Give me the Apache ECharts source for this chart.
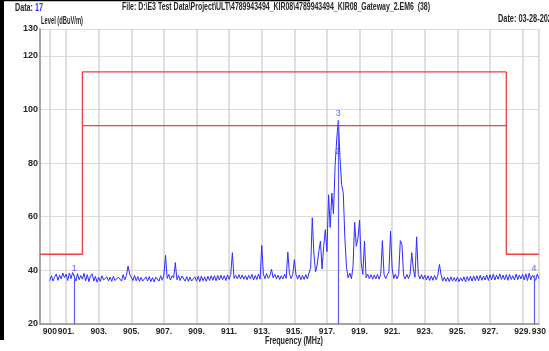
<!DOCTYPE html>
<html>
<head>
<meta charset="utf-8">
<script src="https://cdn.jsdelivr.net/npm/echarts@6/dist/echarts.min.js"></script>
<style>
html,body{margin:0;padding:0;background:#fff;}
#chart{width:549px;height:351px;}
</style>
</head>
<body>
<div id="chart"></div>
<script>
// ---- data ----
const freqStart = 900.0;   // MHz, first sample
const freqStep = 0.1;      // MHz between samples
// measured level (dBuV/m), one row per MHz (900.0 ... 930.0)
const levels = [
 36.2, 38.0, 36.0, 37.6, 38.6, 36.3, 38.2, 36.8, 39.0, 37.3,
 38.6, 36.2, 39.0, 36.9, 39.2, 37.7, 36.0, 38.8, 36.5, 38.1,
 36.7, 38.9, 36.1, 38.4, 35.8, 37.9, 38.7, 36.0, 37.8, 35.6,
 37.4, 35.9, 38.0, 36.4, 35.7, 37.6, 36.1, 37.5, 35.9, 37.8,
 36.2, 35.8, 37.5, 38.0, 36.0, 38.4, 36.5, 38.1, 41.6, 38.6,
 39.0, 36.2, 38.1, 36.1, 37.7, 35.9, 37.4, 36.0, 35.7, 37.6,
 36.0, 37.7, 35.8, 37.3, 35.7, 37.5, 37.9, 36.0, 38.0, 36.3,
 38.2, 45.6, 37.0, 38.5, 36.4, 38.0, 37.2, 42.9, 36.5, 38.1,
 36.2, 37.9, 38.2, 36.0, 37.7, 35.9, 37.5, 36.0, 35.6, 37.6,
 36.0, 37.8, 35.8, 37.9, 36.1, 37.6, 35.9, 37.8, 36.2, 38.0,
 36.3, 38.0, 36.1, 38.1, 36.4, 38.2, 36.5, 38.0, 36.2, 38.3,
 36.6, 38.5, 46.6, 37.0, 38.1, 36.9, 38.4, 36.8, 38.3, 36.7,
 38.0, 36.5, 38.2, 36.8, 38.5, 36.4, 38.1, 36.6, 38.6, 36.7,
 49.3, 38.7, 36.9, 38.8, 37.0, 38.0, 40.4, 37.2, 38.5, 36.9,
 38.2, 36.6, 38.0, 36.8, 38.6, 37.0, 46.8, 38.8, 36.9, 38.4,
 44.0, 38.5, 36.7, 38.3, 36.5, 38.1, 36.6, 38.4, 36.8, 39.0,
 41.0, 59.6, 46.0, 39.5, 42.0, 47.0, 50.9, 40.5, 49.0, 55.2,
 47.0, 68.2, 56.0, 68.8, 61.0, 79.0, 89.0, 96.0, 82.0, 72.0,
 69.0, 52.0, 41.0, 37.2, 39.0, 36.9, 41.5, 57.9, 49.0, 52.0,
 58.7, 43.0, 38.5, 50.9, 37.2, 38.6, 36.9, 38.4, 36.7, 38.3,
 36.8, 38.5, 36.7, 38.6, 51.1, 38.5, 36.9, 38.3, 39.5, 54.6,
 40.5, 37.0, 38.6, 36.9, 38.4, 51.1, 49.6, 38.0, 36.8, 38.5,
 36.9, 38.6, 46.6, 40.5, 37.4, 52.5, 38.5, 36.8, 38.4, 36.7,
 38.2, 36.4, 38.0, 36.2, 37.9, 36.3, 38.1, 36.5, 38.2, 42.2,
 38.3, 36.0, 37.5, 35.9, 37.4, 35.8, 37.6, 36.0, 37.3, 35.9,
 37.5, 35.8, 37.2, 36.0, 37.6, 35.7, 37.7, 36.1, 37.8, 36.0,
 37.9, 36.2, 38.0, 36.1, 38.2, 36.3, 37.9, 36.4, 38.3, 36.2,
 38.4, 36.5, 38.6, 36.4, 38.3, 36.7, 38.7, 36.6, 38.2, 36.5,
 38.4, 36.3, 38.5, 36.6, 38.0, 36.4, 38.6, 36.5, 38.3, 36.8,
 38.5, 36.4, 38.7, 36.2, 38.9, 36.5, 38.2, 37.8, 36.3, 38.6,
 36.9
];
// limit lines
const limitFreqs  = [899.4, 902, 902, 928, 928, 930];
const limitLevels = [46, 46, 114, 114, 46, 46];
const limit2Freqs  = [902, 928];
const limit2Levels = [94, 94];
// markers
const markerNames  = ['1', '2', '3', '4'];
const markerFreqs  = [901.5, 917.66, 917.7, 929.7];
const markerLevels = [38.2, 82, 96, 38.2];
const markerLineIdx = [0, 2, 3];
// axes
const xTicks = [900, 901, 903, 905, 907, 909, 911, 913, 915, 917, 919, 921, 923, 925, 927, 929, 930];
const xTickLabels = ['900', '901.', '903.', '905.', '907.', '909.', '911.', '913.', '915.', '917.', '919.', '921.', '923.', '925.', '927.', '929.', '930'];
const xMin = 899.4, xMax = 930;
const yMin = 20, yMax = 130, yStep = 20;
// texts
const headerData = 'Data: ';
const headerDataNo = '17';
const headerFile = 'File: D:\\E3 Test Data\\Project\\ULT\\4789943494_KIR08\\4789943494_KIR08_Gateway_2.EM6  (38)';
const headerDate = 'Date: 03-28-2023';
const yTitle = 'Level (dBuV/m)';
const xTitle = 'Frequency (MHz)';

// ---- chart ----
const FONT = '"Liberation Sans",Arial,sans-serif';
const TXT = '#262626';
const mctx = document.createElement('canvas').getContext('2d');
function fitScale(text, size, target) {
  mctx.font = 'bold ' + size + 'px "Liberation Sans"';
  return target / mctx.measureText(text).width;
}
function narrowText(text, x, y, size, target, fill) {
  return {type: 'text', x: x, y: y, scaleX: fitScale(text, size, target), silent: true, z: 10,
    style: {text: text, fill: fill || TXT, font: 'bold ' + size + 'px "Liberation Sans"'}};
}

const trace = levels.map((v, i) => [+(freqStart + i * freqStep).toFixed(2), v]);
const limit1 = limitFreqs.map((f, i) => [f, limitLevels[i]]);
const limit2 = limit2Freqs.map((f, i) => [f, limit2Levels[i]]);
const markers = markerFreqs.map((f, i) => ({value: [f, markerLevels[i]], name: markerNames[i]}));
const mLines = markerLineIdx.map(i => [{coord: [markerFreqs[i], markerLevels[i]]}, {coord: [markerFreqs[i], yMin]}]);

const dataScale = fitScale(headerData + headerDataNo, 10.5, 28);

const chart = echarts.init(document.getElementById('chart'), null, {renderer: 'canvas'});
chart.setOption({
  animation: false,
  backgroundColor: '#ffffff',
  grid: {left: 40, right: 8, top: 29, bottom: 27, containLabel: false},
  xAxis: {
    type: 'value', min: xMin, max: xMax,
    axisLine: {show: true, lineStyle: {color: '#8a8a8a', width: 1.5}},
    axisTick: {show: false, customValues: xTicks},
    splitLine: {show: true, lineStyle: {color: '#d4d4d4', width: 1.5}},
    axisLabel: {
      customValues: xTicks, showMinLabel: true, showMaxLabel: true, hideOverlap: false,
      formatter: v => { const k = xTicks.indexOf(v); return k >= 0 ? xTickLabels[k] : ''; },
      color: TXT, fontFamily: FONT, fontSize: 8.5, fontWeight: 'bold', margin: 3
    }
  },
  yAxis: {
    type: 'value', min: yMin, max: yMax, interval: yStep,
    axisLine: {show: true, lineStyle: {color: '#8a8a8a', width: 1.5}},
    axisTick: {show: false},
    splitLine: {show: true, lineStyle: {color: '#dcdcdc', width: 1.2}},
    axisLabel: {color: TXT, fontFamily: FONT, fontSize: 9, fontWeight: 'bold', margin: 2,
      showMinLabel: true, showMaxLabel: true}
  },
  series: [
    {
      type: 'line', data: limit1, symbol: 'none', silent: true,
      lineStyle: {color: '#ee4040', width: 1.3}, z: 3
    },
    {
      type: 'line', data: limit2, symbol: 'none', silent: true,
      lineStyle: {color: '#ee4040', width: 1.3}, z: 3
    },
    {
      type: 'line', data: trace, symbol: 'none', silent: true,
      lineStyle: {color: '#2d2dff', width: 1},
      z: 4,
      markLine: {
        silent: true, symbol: 'none', label: {show: false},
        lineStyle: {color: '#5a5aff', width: 1.2, type: 'solid'},
        data: mLines
      }
    },
    {
      type: 'scatter', data: markers, symbolSize: 0, silent: true, z: 5,
      label: {
        show: true, position: 'top', distance: 2,
        formatter: p => p.name,
        color: '#4040ff', fontFamily: FONT, fontSize: 9
      }
    }
  ],
  graphic: [
    {type: 'rect', x: 0, y: 0, z: 1, shape: {width: 4, height: 340}, style: {fill: '#000'}, silent: true},
    {type: 'rect', x: 0, y: 0, z: 1, shape: {width: 310, height: 1.2}, style: {fill: '#000'}, silent: true},
    {type: 'text', x: 15, y: 2.5, z: 10, scaleX: dataScale, silent: true, style: {
      text: '{a|' + headerData + '}{b|' + headerDataNo + '}', rich: {
        a: {fill: TXT, font: 'bold 10.5px "Liberation Sans"'},
        b: {fill: '#2d2dff', font: 'bold 10.5px "Liberation Sans"'}
      }}},
    narrowText(headerFile, 122, 2, 10.5, 308),
    narrowText(headerDate, 498, 14, 10.5, 58),
    narrowText(yTitle, 41, 16, 10, 42),
    narrowText(xTitle, 265, 336, 10, 58)
  ]
});
</script>
</body>
</html>
